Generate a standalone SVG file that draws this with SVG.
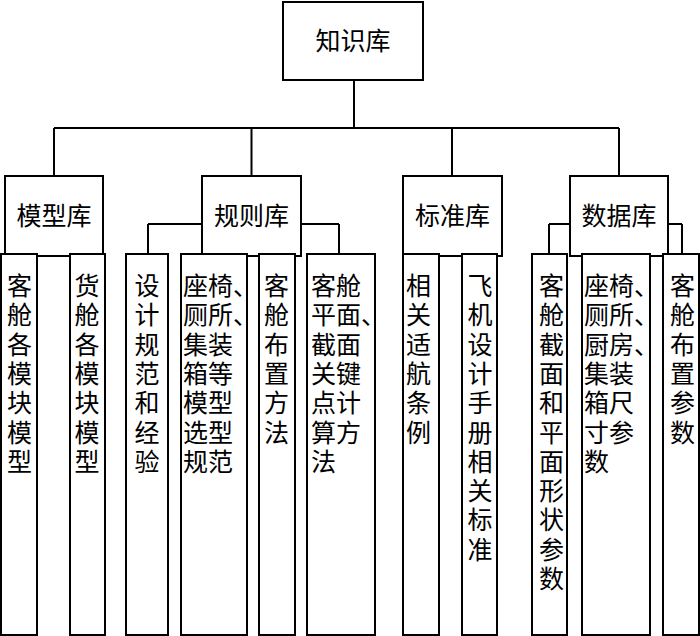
<svg xmlns="http://www.w3.org/2000/svg" width="700" height="636" viewBox="0 0 700 636">
<style>
.box{fill:#fff;stroke:#000;stroke-width:2}
.ln{fill:none;stroke:#000;stroke-width:2}
text{font-family:"Liberation Serif","Noto Sans CJK SC","Noto Sans CJK TC",serif;font-size:25px;fill:#000}
.c{text-anchor:middle}
</style>
<rect width="700" height="636" fill="#fff"/>
<g id="connectors" class="ln">
<path d="M354 80V128M54 128H619M54 128V176M251.5 128V176M452 128V176M619 128V176"/>
<path d="M53 256V225M18 225H88M18 225V254M88 225V254"/>
<path d="M250 256V224M148 224H339M148 224V254M214 224V254M277 224V254M339 224V254"/>
<path d="M450 256V225M421 225H479M421 225V254M479 225V254"/>
<path d="M616 256V224M549 224H682M549 224V254M616 224V254M682 224V254"/>
</g>
<g id="root"><rect class="box" x="283" y="2" width="140" height="78"/><text class="c" x="353" y="50">知识库</text></g>
<g id="model"><rect class="box" x="5" y="176" width="98" height="80"/><text class="c" x="54" y="225">模型库</text></g>
<g id="rule"><rect class="box" x="202" y="176" width="99" height="80"/><text class="c" x="251.5" y="225">规则库</text></g>
<g id="standard"><rect class="box" x="403" y="176" width="99" height="80"/><text class="c" x="452.5" y="225">标准库</text></g>
<g id="data"><rect class="box" x="570" y="176" width="98" height="80"/><text class="c" x="619" y="225">数据库</text></g>

<g id="n1"><rect class="box" x="1" y="254" width="36" height="381"/>
<text class="c" x="19.5"><tspan x="19.5" y="295">客</tspan><tspan x="19.5" y="324.3">舱</tspan><tspan x="19.5" y="353.6">各</tspan><tspan x="19.5" y="382.9">模</tspan><tspan x="19.5" y="412.2">块</tspan><tspan x="19.5" y="441.5">模</tspan><tspan x="19.5" y="470.8">型</tspan></text></g>
<g id="n2"><rect class="box" x="70" y="254" width="35" height="381"/>
<text class="c" x="87"><tspan x="87" y="295">货</tspan><tspan x="87" y="324.3">舱</tspan><tspan x="87" y="353.6">各</tspan><tspan x="87" y="382.9">模</tspan><tspan x="87" y="412.2">块</tspan><tspan x="87" y="441.5">模</tspan><tspan x="87" y="470.8">型</tspan></text></g>
<g id="n3"><rect class="box" x="126" y="254" width="42" height="381"/>
<text class="c" x="147"><tspan x="147" y="295">设</tspan><tspan x="147" y="324.3">计</tspan><tspan x="147" y="353.6">规</tspan><tspan x="147" y="382.9">范</tspan><tspan x="147" y="412.2">和</tspan><tspan x="147" y="441.5">经</tspan><tspan x="147" y="470.8">验</tspan></text></g>
<g id="n4"><rect class="box" x="181" y="254" width="66" height="381"/>
<text x="183"><tspan x="183" y="295">座椅、</tspan><tspan x="183" y="324.3">厕所、</tspan><tspan x="183" y="353.6">集装</tspan><tspan x="183" y="382.9">箱等</tspan><tspan x="183" y="412.2">模型</tspan><tspan x="183" y="441.5">选型</tspan><tspan x="183" y="470.8">规范</tspan></text></g>
<g id="n5"><rect class="box" x="259" y="254" width="36" height="381"/>
<text class="c" x="276.5"><tspan x="276.5" y="295">客</tspan><tspan x="276.5" y="324.3">舱</tspan><tspan x="276.5" y="353.6">布</tspan><tspan x="276.5" y="382.9">置</tspan><tspan x="276.5" y="412.2">方</tspan><tspan x="276.5" y="441.5">法</tspan></text></g>
<g id="n6"><rect class="box" x="307" y="254" width="68" height="381"/>
<text x="311"><tspan x="311" y="295">客舱</tspan><tspan x="311" y="324.3">平面、</tspan><tspan x="311" y="353.6">截面</tspan><tspan x="311" y="382.9">关键</tspan><tspan x="311" y="412.2">点计</tspan><tspan x="311" y="441.5">算方</tspan><tspan x="311" y="470.8">法</tspan></text></g>
<g id="n7"><rect class="box" x="403" y="254" width="36" height="381"/>
<text class="c" x="418.5"><tspan x="418.5" y="295">相</tspan><tspan x="418.5" y="324.3">关</tspan><tspan x="418.5" y="353.6">适</tspan><tspan x="418.5" y="382.9">航</tspan><tspan x="418.5" y="412.2">条</tspan><tspan x="418.5" y="441.5">例</tspan></text></g>
<g id="n8"><rect class="box" x="462" y="254" width="35" height="381"/>
<text class="c" x="480"><tspan x="480" y="295">飞</tspan><tspan x="480" y="324.3">机</tspan><tspan x="480" y="353.6">设</tspan><tspan x="480" y="382.9">计</tspan><tspan x="480" y="412.2">手</tspan><tspan x="480" y="441.5">册</tspan><tspan x="480" y="470.8">相</tspan><tspan x="480" y="500.1">关</tspan><tspan x="480" y="529.4">标</tspan><tspan x="480" y="558.7">准</tspan></text></g>
<g id="n9"><rect class="box" x="532" y="254" width="35" height="381"/>
<text class="c" x="551.5"><tspan x="551.5" y="295">客</tspan><tspan x="551.5" y="324.3">舱</tspan><tspan x="551.5" y="353.6">截</tspan><tspan x="551.5" y="382.9">面</tspan><tspan x="551.5" y="412.2">和</tspan><tspan x="551.5" y="441.5">平</tspan><tspan x="551.5" y="470.8">面</tspan><tspan x="551.5" y="500.1">形</tspan><tspan x="551.5" y="529.4">状</tspan><tspan x="551.5" y="558.7">参</tspan><tspan x="551.5" y="588">数</tspan></text></g>
<g id="n10"><rect class="box" x="582" y="254" width="68" height="381"/>
<text x="584"><tspan x="584" y="295">座椅、</tspan><tspan x="584" y="324.3">厕所、</tspan><tspan x="584" y="353.6">厨房、</tspan><tspan x="584" y="382.9">集装</tspan><tspan x="584" y="412.2">箱尺</tspan><tspan x="584" y="441.5">寸参</tspan><tspan x="584" y="470.8">数</tspan></text></g>
<g id="n11"><rect class="box" x="663" y="254" width="36" height="381"/>
<text class="c" x="682.5"><tspan x="682.5" y="295">客</tspan><tspan x="682.5" y="324.3">舱</tspan><tspan x="682.5" y="353.6">布</tspan><tspan x="682.5" y="382.9">置</tspan><tspan x="682.5" y="412.2">参</tspan><tspan x="682.5" y="441.5">数</tspan></text></g>
</svg>
